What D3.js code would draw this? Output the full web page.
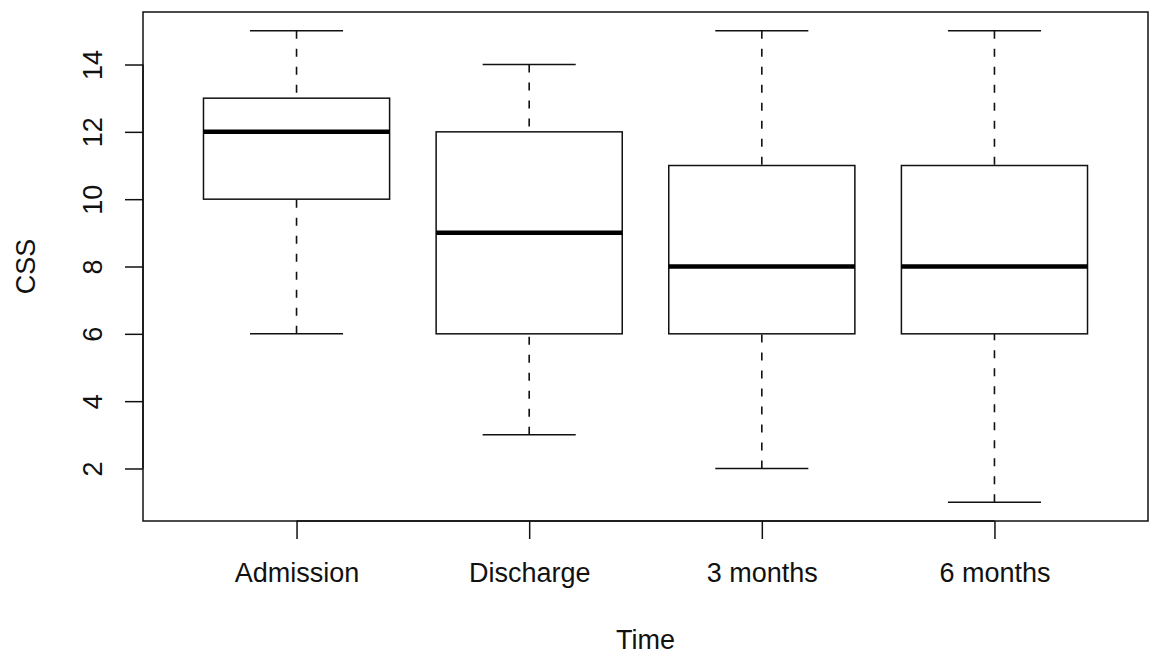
<!DOCTYPE html>
<html>
<head>
<meta charset="utf-8">
<script src="https://cdn.jsdelivr.net/npm/d3@7"></script>
<style>
  html, body { margin: 0; padding: 0; background: #fff; }
  svg { display: block; }
</style>
</head>
<body>
<svg id="chart"></svg>
<script>
// five-number summaries
var categories = ["Admission", "Discharge", "3 months", "6 months"];
var whiskerLow  = [6, 3, 2, 1];
var q1          = [10, 6, 6, 6];
var medians     = [12, 9, 8, 8];
var q3          = [13, 12, 11, 11];
var whiskerHigh = [15, 14, 15, 15];
var yTicks = [2, 4, 6, 8, 10, 12, 14];

var width = 1152;
var height = 664;
var plot = {left: 143, right: 1148, top: 12, bottom: 521};
var font = "'Liberation Sans', Arial, Helvetica, sans-serif";
var fontSize = 27;

var svg = d3.select("#chart")
    .attr("width", width)
    .attr("height", height);

// R style: domain padded 4% on both sides
var x = d3.scaleLinear()
    .domain([0.34, categories.length + 0.66])
    .range([plot.left, plot.right]);

var y = d3.scaleLinear()
    .domain([0.44, 15.56])
    .range([plot.bottom, plot.top]);

var boxW = (x(2) - x(1)) * 0.8;
var capW = boxW / 2;

var data = categories.map(function(c, i) {
  return {name: c, i: i + 1, lo: whiskerLow[i], q1: q1[i], med: medians[i], q3: q3[i], hi: whiskerHigh[i]};
});

var g = svg.append("g");

var box = g.selectAll("g.box")
  .data(data)
  .join("g")
    .attr("class", "box");

// whiskers (dashed)
box.append("line")
    .attr("x1", d => x(d.i)).attr("x2", d => x(d.i))
    .attr("y1", d => y(d.hi)).attr("y2", d => y(d.q3))
    .attr("stroke", "#111").attr("stroke-width", 1.6)
    .attr("stroke-dasharray", "8,10");
box.append("line")
    .attr("x1", d => x(d.i)).attr("x2", d => x(d.i))
    .attr("y1", d => y(d.lo)).attr("y2", d => y(d.q1))
    .attr("stroke", "#111").attr("stroke-width", 1.6)
    .attr("stroke-dasharray", "8,10");

// caps
box.append("line")
    .attr("x1", d => x(d.i) - capW / 2).attr("x2", d => x(d.i) + capW / 2)
    .attr("y1", d => y(d.hi)).attr("y2", d => y(d.hi))
    .attr("stroke", "#111").attr("stroke-width", 1.5);
box.append("line")
    .attr("x1", d => x(d.i) - capW / 2).attr("x2", d => x(d.i) + capW / 2)
    .attr("y1", d => y(d.lo)).attr("y2", d => y(d.lo))
    .attr("stroke", "#111").attr("stroke-width", 1.5);

// box
box.append("rect")
    .attr("x", d => x(d.i) - boxW / 2)
    .attr("y", d => y(d.q3))
    .attr("width", boxW)
    .attr("height", d => y(d.q1) - y(d.q3))
    .attr("fill", "#fff")
    .attr("stroke", "#111")
    .attr("stroke-width", 1.5);

// median
box.append("line")
    .attr("x1", d => x(d.i) - boxW / 2).attr("x2", d => x(d.i) + boxW / 2)
    .attr("y1", d => y(d.med)).attr("y2", d => y(d.med))
    .attr("stroke", "#000").attr("stroke-width", 4.5);

// frame
svg.append("rect")
    .attr("x", plot.left)
    .attr("y", plot.top)
    .attr("width", plot.right - plot.left)
    .attr("height", plot.bottom - plot.top)
    .attr("fill", "none")
    .attr("stroke", "#111")
    .attr("stroke-width", 1.5);

// y axis
var yAxis = svg.append("g")
    .attr("transform", `translate(${plot.left},0)`)
    .call(d3.axisLeft(y).tickValues(yTicks).tickSize(18).tickFormat(d3.format("d")));
yAxis.select(".domain")
    .attr("d", `M0,${y(yTicks[0])}V${y(yTicks[yTicks.length - 1])}`)
    .attr("stroke", "#111").attr("stroke-width", 1.5);
yAxis.selectAll(".tick line").attr("stroke", "#111").attr("stroke-width", 1.5);
yAxis.selectAll(".tick text")
    .attr("font-family", font)
    .attr("font-size", fontSize)
    .attr("fill", "#111")
    .attr("x", null).attr("dy", null)
    .attr("text-anchor", "middle")
    .attr("transform", "translate(-41,0) rotate(-90)");

// x axis
var xAxis = svg.append("g")
    .attr("transform", `translate(0,${plot.bottom})`)
    .call(d3.axisBottom(x).tickValues(data.map(d => d.i)).tickSize(18)
      .tickFormat(function(v) { return categories[v - 1]; }));
xAxis.select(".domain")
    .attr("d", `M${x(1)},0H${x(categories.length)}`)
    .attr("stroke", "#111").attr("stroke-width", 1.5);
xAxis.selectAll(".tick line").attr("stroke", "#111").attr("stroke-width", 1.5);
xAxis.selectAll(".tick text")
    .attr("font-family", font)
    .attr("font-size", fontSize)
    .attr("fill", "#111")
    .attr("y", 61).attr("dy", null);

// axis titles
svg.append("text")
    .attr("x", (plot.left + plot.right) / 2)
    .attr("y", 649)
    .attr("text-anchor", "middle")
    .attr("font-family", font)
    .attr("font-size", fontSize)
    .attr("fill", "#111")
    .text("Time");

svg.append("text")
    .attr("transform", `translate(35,${(plot.top + plot.bottom) / 2}) rotate(-90)`)
    .attr("text-anchor", "middle")
    .attr("font-family", font)
    .attr("font-size", fontSize)
    .attr("fill", "#111")
    .text("CSS");
</script>
</body>
</html>
